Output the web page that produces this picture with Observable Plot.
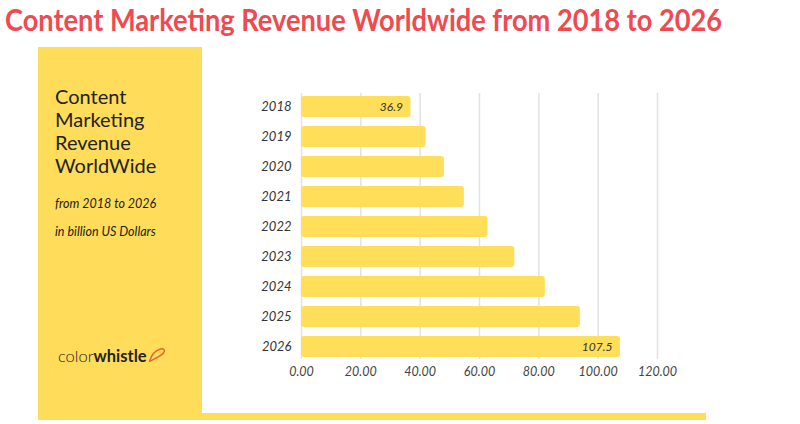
<!DOCTYPE html>
<html><head><meta charset="utf-8">
<script src="https://cdn.jsdelivr.net/npm/d3@7"></script>
<script src="https://cdn.jsdelivr.net/npm/@observablehq/plot@0.6"></script>
<style>
body{margin:0;background:#fff;}
#page{position:relative;width:800px;height:424px;overflow:hidden;font-family:Lato,"Open Sans",sans-serif;}
#title{position:absolute;left:5px;top:0px;height:40px;line-height:38px;font-size:30px;font-weight:700;color:#EF4A50;white-space:nowrap;transform-origin:0 0;}
#panel{position:absolute;left:38px;top:47px;width:164px;height:373px;background:#FFDC5A;}
#strip{position:absolute;left:38px;top:413px;width:668px;height:7px;background:#FFDC5A;}
#ptitle{position:absolute;left:55px;top:85px;font-size:20px;line-height:23px;color:#222;}
.pi{position:absolute;left:55px;font-size:12.5px;font-style:italic;color:#222;white-space:nowrap;}
#logo{position:absolute;left:58px;top:346px;font-size:16.5px;color:#222;white-space:nowrap;}
#logo .l{font-weight:300;}
#logo .b{font-weight:700;}
#chart{position:absolute;left:0;top:40px;}
</style></head><body>
<div id="page">
  <div id="title">Content Marketing Revenue Worldwide from 2018 to 2026</div>
  <div id="panel"></div>
  <div id="strip"></div>
  <div id="ptitle">Content<br>Marketing<br>Revenue<br>WorldWide</div>
  <div class="pi" style="top:196px">from 2018 to 2026</div>
  <div class="pi" style="top:224px">in billion US Dollars</div>
  <div id="logo"><span class="l">color</span><span class="b">whistle</span><svg width="18" height="18" viewBox="0 0 18 18" style="vertical-align:-2px;margin-left:1px"><path d="M1.5,15.5 C3,10 7,4.5 12.5,3 C16,2 17.5,4.5 15.5,7 C13.5,9.5 9,11.5 1.5,15.5 Z" fill="none" stroke="#E8632B" stroke-width="1.4" stroke-linejoin="round"/></svg></div>
  <div id="chart"></div>
</div>
<script>
const years = ["2018","2019","2020","2021","2022","2023","2024","2025","2026"];
const revenue = [36.9, 42.0, 48.2, 54.9, 62.9, 71.9, 82.2, 94.0, 107.5];
const xTicks = [0, 20, 40, 60, 80, 100, 120];
const labeledYears = ["2018", "2026"];

const data = years.map((y, i) => ({year: y, value: revenue[i]}));
const fmt = d3.format(".2f");

const chart = Plot.plot({
  width: 800,
  height: 384,
  marginLeft: 301,
  marginRight: 143,
  marginTop: 53,
  marginBottom: 65,
  style: {background: "transparent", fontFamily: "Lato, sans-serif", fontStyle: "italic", color: "#333"},
  x: {domain: [0, 120], label: null},
  y: {domain: years, paddingInner: 0.3, paddingOuter: 0, label: null},
  marks: [
    Plot.gridX(xTicks, {stroke: "#e2e2e2", strokeOpacity: 1, strokeWidth: 1.5}),
    Plot.barX(data, {x: "value", y: "year", fill: "#FFDE59", rx: 3}),
    Plot.text(data.filter(d => labeledYears.includes(d.year)), {
      x: "value", y: "year", text: d => d.value.toFixed(1),
      textAnchor: "end", dx: -8, fontSize: 12, fill: "#333"
    }),
    Plot.axisX(xTicks, {tickSize: 0, tickPadding: 8, tickFormat: fmt, fill: "#444", fontSize: 12.5, label: null}),
    Plot.axisY({tickSize: 0, tickPadding: 10, fill: "#333", fontSize: 13, label: null})
  ]
});
document.getElementById("chart").appendChild(chart);

const t = document.getElementById("title");
const w = t.getBoundingClientRect().width;
t.style.transform = `scaleX(${717 / w})`;
</script>
</body></html>
